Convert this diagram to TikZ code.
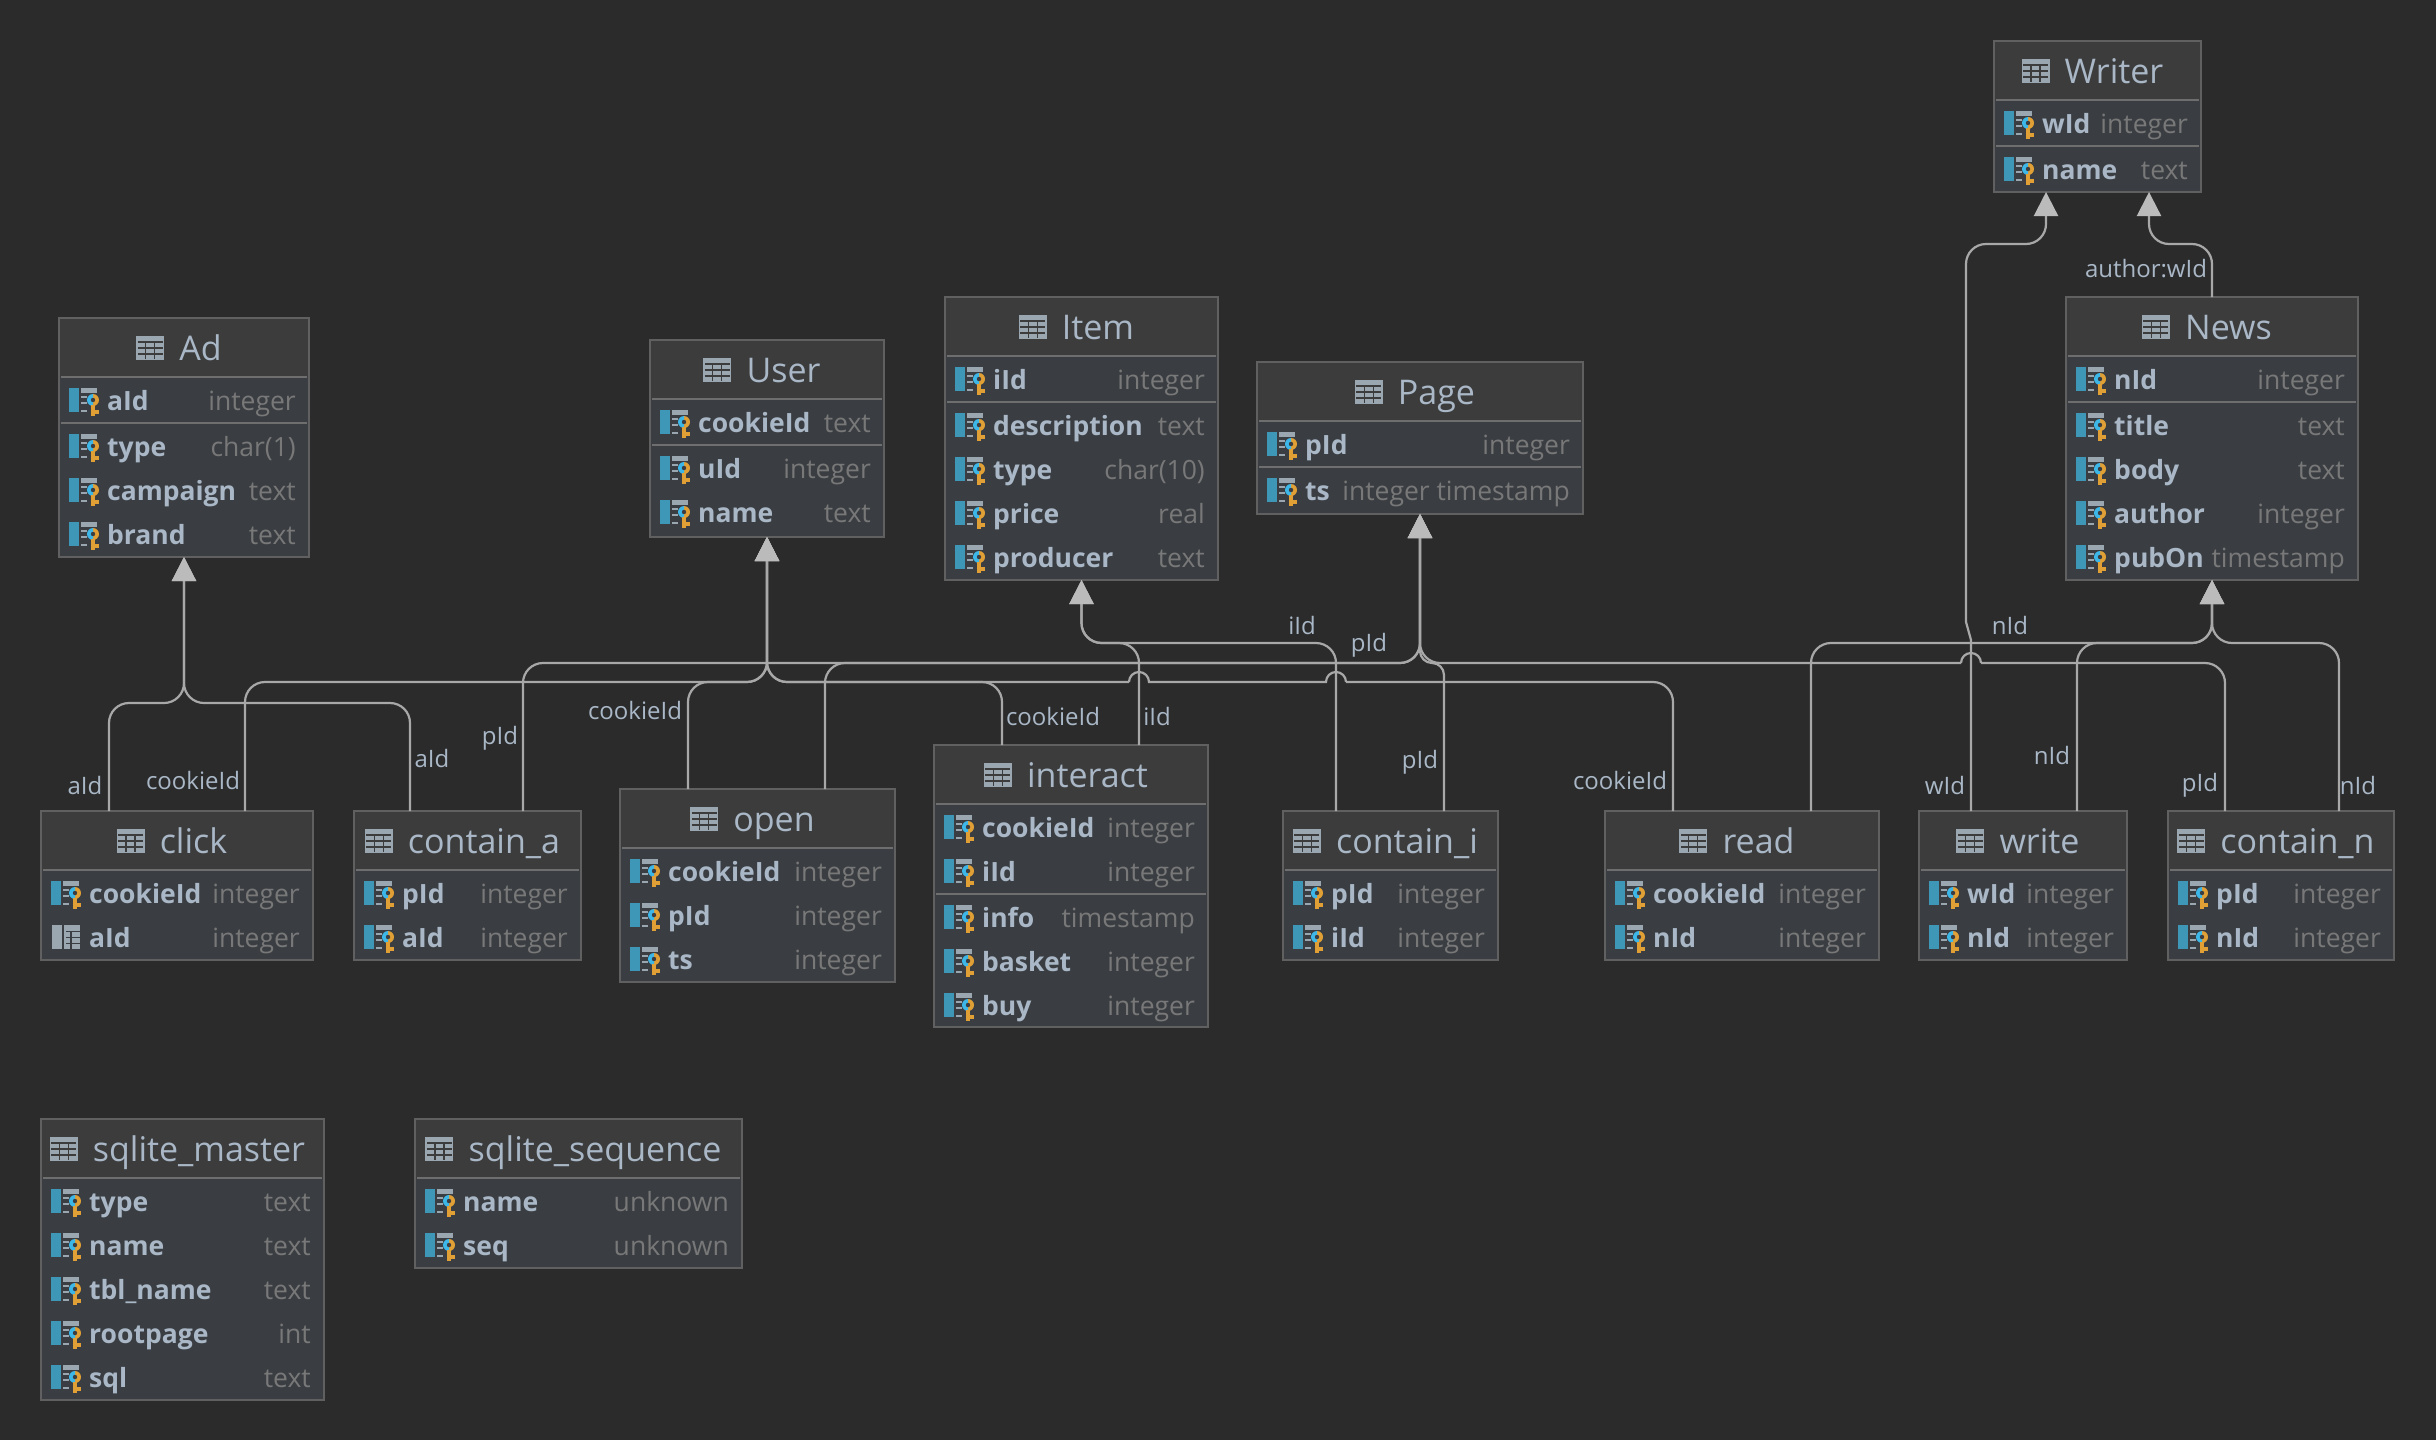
\documentclass[tikz,border=0pt]{standalone}
\usepackage{fontspec}
\setmainfont{Open Sans}
\usetikzlibrary{arrows.meta,calc}
\definecolor{bgc}{HTML}{2B2B2B}
\definecolor{headc}{HTML}{3C3C3C}
\definecolor{bodyc}{HTML}{3A3E42}
\definecolor{borderc}{HTML}{606060}
\definecolor{sepc}{HTML}{6E6E6E}
\definecolor{textc}{HTML}{A9B7C6}
\definecolor{typec}{HTML}{787878}
\definecolor{linec}{HTML}{A8A8A8}
\definecolor{tipc}{HTML}{BBBBBB}
\definecolor{blueb}{HTML}{3F97B8}
\definecolor{keyb}{HTML}{3DB6E8}
\definecolor{keyo}{HTML}{E0A035}
\definecolor{iconc}{HTML}{9AA7B0}
\tikzset{
  tablebox/.style={rectangle,draw=borderc,line width=2pt,fill=bodyc,inner sep=0pt,outer sep=0pt},
  tabtitle/.style={anchor=base,inner sep=0pt,text=textc,font=\fontsize{34}{37}\selectfont},
  rowname/.style={anchor=base west,inner sep=0pt,text=textc,font=\fontsize{26.5}{30}\selectfont\bfseries},
  rowtype/.style={anchor=base east,inner sep=0pt,text=typec,font=\fontsize{26.5}{30}\selectfont},
  lbl/.style={inner sep=0pt,text=textc,font=\fontsize{24}{26}\selectfont},
  conn/.style={draw=linec,line width=2.2pt,rounded corners=20pt},
  bumpline/.style={draw=linec,line width=2.2pt,sharp corners},
  tipped/.style={conn,-{Triangle[width=24pt,length=24pt,color=tipc]}},
}
\newcommand{\gridicon}[1]{%
  \begin{scope}[shift={(#1)}]
    \fill[iconc] (0,0) rectangle (28,-24);
    \foreach \ya in {-6,-12,-18}{\draw[headc,line width=1.2pt] (1.5,\ya) -- (26.5,\ya);}
    \foreach \xc in {9.5,18.5}{\draw[headc,line width=1.2pt] (\xc,-1.5) -- (\xc,-18);}
  \end{scope}
}
\newcommand{\keyicon}[2]{% left x, centre y
  \begin{scope}[shift={(#1,#2)}]
    \fill[blueb] (0,-13) rectangle (10,11);
    \fill[iconc] (12,-13) rectangle (28,-8);
    \fill[iconc] (12,-5) rectangle (18,-3.5);
    \fill[iconc] (12,1) rectangle (18,2.5);
    \fill[iconc] (12,9) rectangle (18,10.5);
    \fill[keyo] (24,-7) arc[start angle=90,end angle=-90,radius=6pt] -- cycle;
    \fill[keyb] (24,-7) arc[start angle=90,end angle=270,radius=6pt] -- cycle;
    \fill[keyo] (22,4) rectangle (25.5,15);
    \fill[keyo] (25.5,9) rectangle (30,13);
    \fill[bodyc] (24,-1) circle[radius=2.2pt];
  \end{scope}
}
\newcommand{\tabicon}[2]{% left x, centre y
  \begin{scope}[shift={(#1,#2)}]
    \fill[iconc] (1,-13) rectangle (11,11);
    \fill[iconc] (13,-13) rectangle (29,11);
    \foreach \ya in {-6.5,-0.5,5.5}{\draw[bodyc,line width=1.2pt] (15,\ya) -- (29,\ya);}
    \draw[bodyc,line width=1.2pt] (20,-6.5) -- (20,11);
  \end{scope}
}
% #1 id, #2 x1, #3 y1, #4 x2, #5 y2, #6 title, #7 separator index, #8 rows
\newcommand{\dbtable}[8]{
  \pgfmathsetmacro{\boxw}{#4-#2}\pgfmathsetmacro{\boxh}{#5-#3}
  \pgfmathsetmacro{\cx}{(#2+#4)/2}\pgfmathsetmacro{\cy}{(#3+#5)/2}
  \node[tablebox,minimum width=\boxw pt,minimum height=\boxh pt] (#1) at (\cx,\cy) {};
  \fill[headc] (#2+1,#3+1) rectangle (#4-1,#3+59);
  \draw[sepc,line width=2pt] (#2+2,#3+59) -- (#4-2,#3+59);
  \pgfmathsetmacro{\tx}{\cx+16.5}\pgfmathsetmacro{\ty}{#3+42}
  \node[tabtitle] (#1-t) at (\tx,\ty) {#6};
  \gridicon{$(#1-t.west|-#1-t.base)+(-43,0)$}
  \foreach \rn/\rt/\rk [count=\ri] in {#8}{
    \pgfmathsetmacro{\sft}{(\ri>#7 && #7>0) ? 2 : 0}
    \pgfmathsetmacro{\ry}{#3+83+44*(\ri-1)+\sft}
    \pgfmathsetmacro{\rb}{\ry+9}
    \pgfmathsetmacro{\xa}{#2+48}\pgfmathsetmacro{\xb}{#4-13}\pgfmathsetmacro{\xic}{#2+10}
    \node[rowname] (#1-n\ri) at (\xa,\rb) {\rn};
    \node[rowtype] (#1-y\ri) at (\xb,\rb) {\rt};
    \if\rk k\keyicon{\xic}{\ry}\else\tabicon{\xic}{\ry}\fi
  }
  \ifnum#7>0
    \pgfmathsetmacro{\sy}{#3+83+44*(#7-1)+22}
    \draw[sepc,line width=2pt] (#2+2,\sy) -- (#4-2,\sy);
  \fi
}
\begin{document}
\begin{tikzpicture}[x=1pt,y=-1pt]
\useasboundingbox (0,0) rectangle (2436,1440);
\fill[bgc] (0,0) rectangle (2436,1440);

\dbtable{Writer}{1994}{41}{2201}{192}{Writer}{1}{wId/integer/k,name/text/k}
\dbtable{News}{2066}{297}{2358}{580}{News}{1}{nId/integer/k,title/text/k,body/text/k,author/integer/k,pubOn/timestamp/k}
\dbtable{Ad}{59}{318}{309}{557}{Ad}{1}{aId/integer/k,type/char(1)/k,campaign/text/k,brand/text/k}
\dbtable{User}{650}{340}{884}{537}{User}{1}{cookieId/text/k,uId/integer/k,name/text/k}
\dbtable{Item}{945}{297}{1218}{580}{Item}{1}{iId/integer/k,description/text/k,type/char(10)/k,price/real/k,producer/text/k}
\dbtable{Page}{1257}{362}{1583}{514}{Page}{1}{pId/integer/k,ts/integer timestamp/k}
\dbtable{click}{41}{811}{313}{960}{click}{0}{cookieId/integer/k,aId/integer/t}
\dbtable{containa}{354}{811}{581}{960}{contain\_a}{0}{pId/integer/k,aId/integer/k}
\dbtable{open}{620}{789}{895}{982}{open}{0}{cookieId/integer/k,pId/integer/k,ts/integer/k}
\dbtable{interact}{934}{745}{1208}{1027}{interact}{2}{cookieId/integer/k,iId/integer/k,info/timestamp/k,basket/integer/k,buy/integer/k}
\dbtable{containi}{1283}{811}{1498}{960}{contain\_i}{0}{pId/integer/k,iId/integer/k}
\dbtable{read}{1605}{811}{1879}{960}{read}{0}{cookieId/integer/k,nId/integer/k}
\dbtable{write}{1919}{811}{2127}{960}{write}{0}{wId/integer/k,nId/integer/k}
\dbtable{containn}{2168}{811}{2394}{960}{contain\_n}{0}{pId/integer/k,nId/integer/k}
\dbtable{master}{41}{1119}{324}{1400}{sqlite\_master}{0}{type/text/k,name/text/k,tbl\_name/text/k,rootpage/int/k,sql/text/k}
\dbtable{sequence}{415}{1119}{742}{1268}{sqlite\_sequence}{0}{name/unknown/k,seq/unknown/k}

% guide coordinates for connector columns
\coordinate (gAa) at (109,0); \coordinate (gAb) at (245,0); \coordinate (gAc) at (410,0);
\coordinate (gPa) at (523,0); \coordinate (gUa) at (688,0); \coordinate (gPb) at (825,0);
\coordinate (gUb) at (1002,0); \coordinate (gIa) at (1139,0); \coordinate (gIb) at (1336,0);
\coordinate (gPc) at (1444,0); \coordinate (gUc) at (1673,0); \coordinate (gNa) at (1811,0);
\coordinate (gWa) at (1971,0); \coordinate (gNb) at (2077,0); \coordinate (gPd) at (2225,0);
\coordinate (gNc) at (2339,0); \coordinate (gWt) at (2046,0); \coordinate (gNt) at (2149,0);

% Ad
\draw[tipped] (click.north -| gAa) -- (109,703) -- (184,703) -- (Ad.south);
\draw[tipped] (containa.north -| gAc) -- (410,703) -- (184,703) -- (Ad.south);
% User
\draw[tipped] (click.north -| gAb) -- (245,682) -- (767,682) -- (User.south);
\draw[tipped] (open.north -| gUa) -- (688,682) -- (767,682) -- (User.south);
\draw[tipped] (interact.north -| gUb) -- (1002,682) -- (767,682) -- (User.south);
\draw[conn] (read.north -| gUc) -- (1673,682) -- (1346,682);
\draw[bumpline] (1346,682) arc[start angle=0,end angle=180,radius=10pt] -- (1149,682) arc[start angle=0,end angle=180,radius=10pt];
\draw[tipped] (1129,682) -- (767,682) -- (User.south);
% Item
\draw[tipped] (interact.north -| gIa) -- (1139,643) -- (1081.5,643) -- (Item.south);
\draw[tipped] (containi.north -| gIb) -- (1336,643) -- (1081.5,643) -- (Item.south);
% Page
\draw[tipped] (containa.north -| gPa) -- (523,663) -- (1420,663) -- (Page.south);
\draw[tipped] (open.north -| gPb) -- (825,663) -- (1420,663) -- (Page.south);
\draw[tipped,rounded corners=12pt] (containi.north -| gPc) -- (1444,663) -- (1420,663) -- (Page.south);
\draw[conn] (containn.north -| gPd) -- (2225,663) -- (1981,663);
\draw[bumpline] (1981,663) arc[start angle=0,end angle=180,radius=10pt];
\draw[tipped] (1961,663) -- (1420,663) -- (Page.south);
% News
\draw[tipped] (read.north -| gNa) -- (1811,643) -- (2212,643) -- (News.south);
\draw[tipped] (write.north -| gNb) -- (2077,643) -- (2212,643) -- (News.south);
\draw[tipped] (containn.north -| gNc) -- (2339,643) -- (2212,643) -- (News.south);
% Writer
\draw[bumpline] (write.north -| gWa) -- (1971,640) -- (1966,622);
\draw[tipped] (1966,622) -- (1966,244) -- (2046,244) -- (Writer.south -| gWt);
\draw[tipped] (News.north) -- (2212,244) -- (2149,244) -- (Writer.south -| gNt);

% labels
\node[lbl] (l1) at (85,785) {aId};
\node[lbl] (l2) at (193,780) {cookieId};
\node[lbl] (l3) at (432,758) {aId};
\node[lbl] (l4) at (500,738) {pId};
\node[lbl] (l5) at (635,710) {cookieId};
\node[lbl] (l6) at (1053,716) {cookieId};
\node[lbl] (l7) at (1157,716) {iId};
\node[lbl] (l8) at (1302,625) {iId};
\node[lbl] (l9) at (1369,645) {pId};
\node[lbl] (l10) at (1420,762) {pId};
\node[lbl] (l11) at (1620,780) {cookieId};
\node[lbl] (l12) at (1945,785) {wId};
\node[lbl] (l13) at (2052,755) {nId};
\node[lbl] (l14) at (2010,625) {nId};
\node[lbl] (l15) at (2200,785) {pId};
\node[lbl] (l16) at (2358,785) {nId};
\node[lbl] (l17) at (2146,269) {author:wId};
\end{tikzpicture}
\end{document}
